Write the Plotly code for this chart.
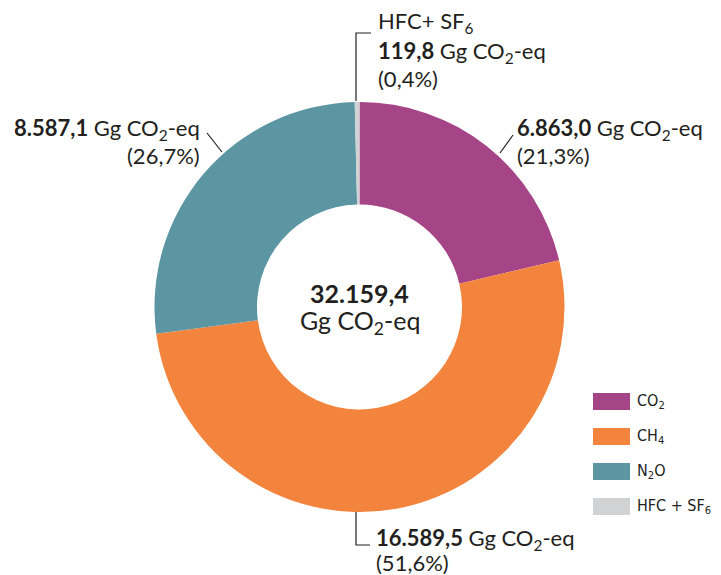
import plotly.graph_objects as go

# page has an 8px body margin, so the figure is drawn 8px in from the top-left
OFF = 8
W, H = 721 - OFF, 575 - OFF

gases = ["CO<sub>2</sub>", "CH<sub>4</sub>", "N<sub>2</sub>O", "HFC + SF<sub>6</sub>"]
values = [6863.0, 16589.5, 8587.1, 119.8]
percents = ["21,3%", "51,6%", "26,7%", "0,4%"]
value_labels = ["6.863,0", "16.589,5", "8.587,1", "119,8"]
colors = ["#A54486", "#F3843E", "#5C96A3", "#D1D2D4"]
total_label = "32.159,4"

FONT = "Lato, 'Open Sans', sans-serif"
COND = "'Liberation Sans Narrow', 'DejaVu Sans Condensed', 'Roboto Condensed', sans-serif"
TXT = "#231F20"

cx, cy, R = 359.5, 307, 205


def px(x):
    return (x - OFF) / W


def py(y):
    return 1 - (y - OFF) / H


fig = go.Figure()
fig.add_trace(go.Pie(
    labels=gases, values=values, marker=dict(colors=colors, line=dict(width=0)),
    hole=0.5, sort=False, direction="clockwise", rotation=0,
    textinfo="none", hoverinfo="label+value+percent", showlegend=False,
    domain=dict(x=[px(cx - R), px(cx + R)], y=[py(cy + R), py(cy - R)]),
))

annotations = []
shapes = []


def ann(x, y, text, xanchor="left", size=22, font=FONT, align="left"):
    annotations.append(dict(x=px(x), y=py(y), xref="paper", yref="paper", text=text,
                            showarrow=False, xanchor=xanchor, yanchor="middle", align=align,
                            font=dict(family=font, size=size, color=TXT)))


def line(path_pts):
    d = "M " + " L ".join(f"{px(x)},{py(y)}" for x, y in path_pts)
    shapes.append(dict(type="path", path=d, xref="paper", yref="paper",
                       line=dict(color=TXT, width=1.2)))


unit = " Gg CO<sub>2</sub>-eq"

# center
ann(cx, 293, f"<b>{total_label}</b>", xanchor="center", size=25)
ann(cx, 322, "Gg CO<sub>2</sub>-eq", xanchor="center", size=25)

# HFC label (top)
ann(376, 22, "HFC+ SF<sub>6</sub>")
ann(376, 52, f"<b>{value_labels[3]}</b>{unit}")
ann(376, 78, f"({percents[3]})")
line([(356, 101), (356, 33), (371, 33)])

# CO2 label (right)
ann(515, 129, f"<b>{value_labels[0]}</b>{unit}")
ann(515, 155, f"({percents[0]})")
line([(513, 135), (500, 153)])

# N2O label (left)
ann(202, 129, f"<b>{value_labels[2]}</b>{unit}", xanchor="right")
ann(202, 155, f"({percents[2]})", xanchor="right")
line([(207, 133), (222, 152)])

# CH4 label (bottom)
ann(374, 539, f"<b>{value_labels[1]}</b>{unit}")
ann(374, 562, f"({percents[1]})")
line([(356, 512), (356, 545), (370, 545)])

# legend
ly = [401.5, 436.5, 471.5, 506.5]
for i, (g, c) in enumerate(zip(gases, colors)):
    y = ly[i]
    shapes.append(dict(type="rect", xref="paper", yref="paper",
                       x0=px(593), x1=px(630), y0=py(y - 8.5), y1=py(y + 8.5),
                       fillcolor=c, line=dict(width=0)))
    ann(635, y, g, size=16, font=COND)

fig.update_layout(
    width=W, height=H, margin=dict(l=0, r=0, t=0, b=0),
    paper_bgcolor="white", plot_bgcolor="white",
    annotations=annotations, shapes=shapes,
)

fig.write_html("out.html")
